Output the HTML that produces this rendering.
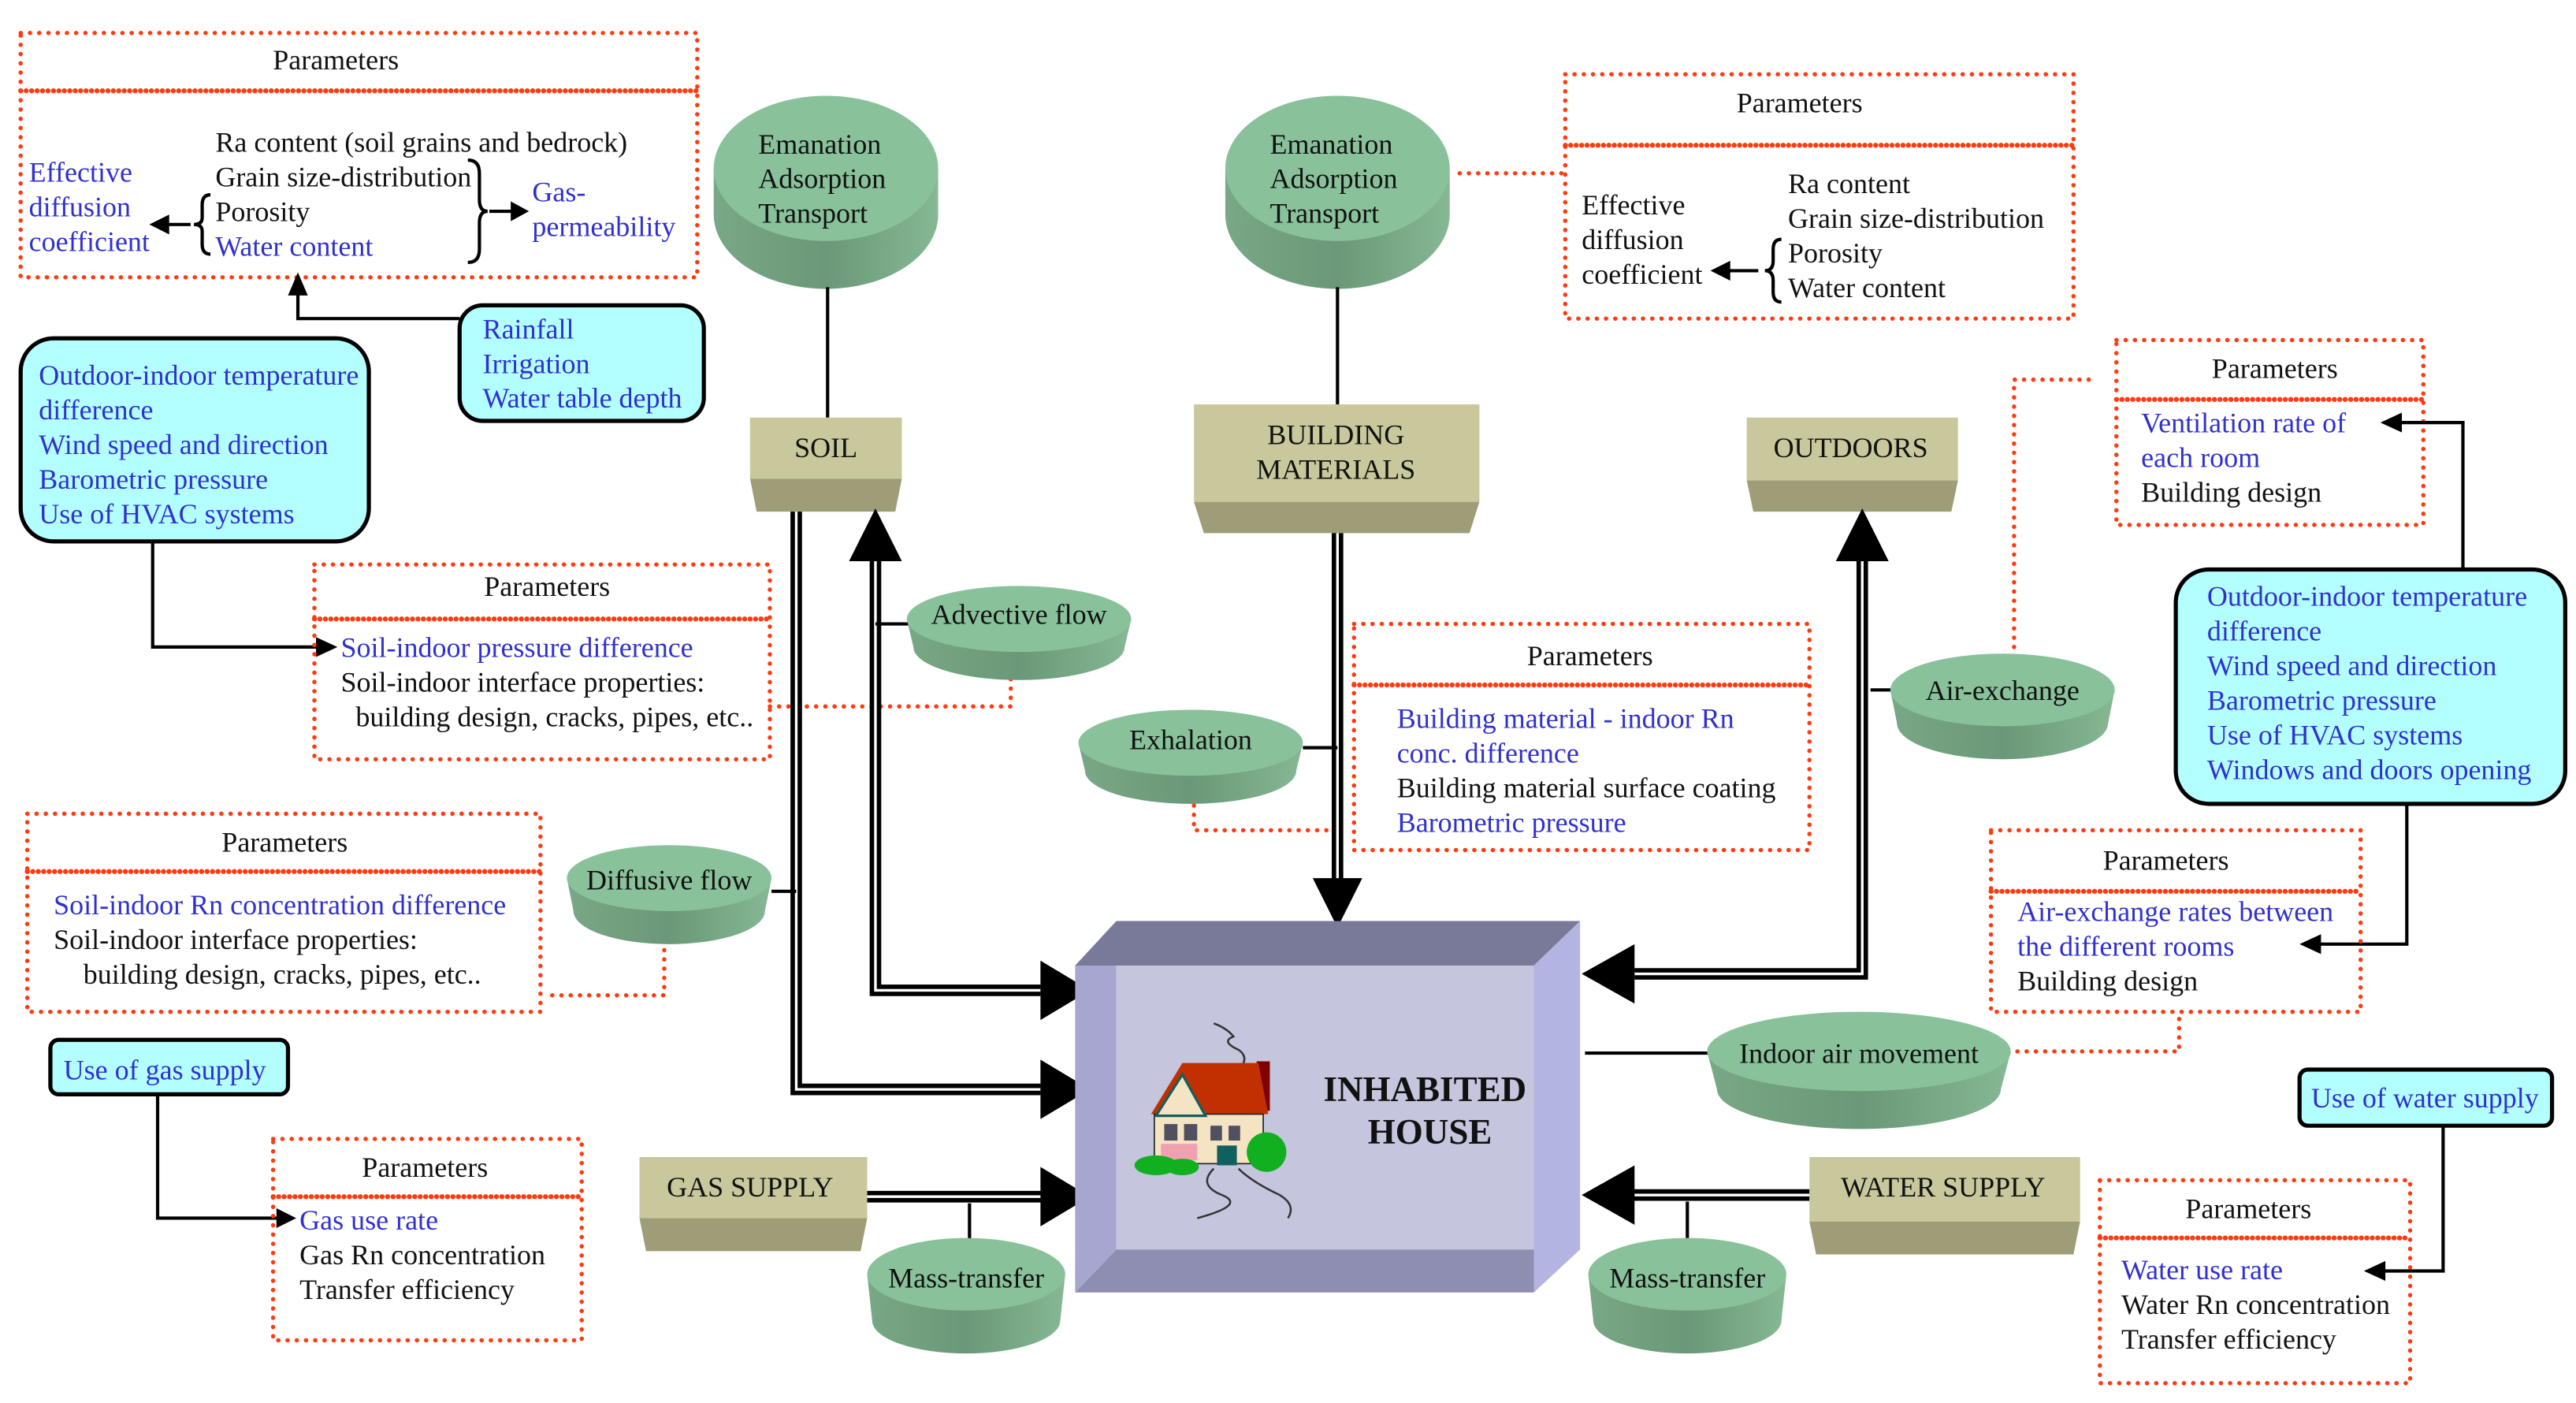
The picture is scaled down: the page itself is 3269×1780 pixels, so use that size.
<!DOCTYPE html>
<html><head><meta charset="utf-8"><style>
html,body{margin:0;padding:0;background:#fff;}
svg{display:block;}
text{font-family:"Liberation Serif","Times New Roman","DejaVu Serif",serif;font-size:17.2px;fill:#111;}
.b{fill:#3030d0;}
.c{text-anchor:middle;}
.dot{fill:none;stroke:#ff3a10;stroke-width:2.6;stroke-dasharray:0.1 5.5;stroke-linecap:round;}
.dd{fill:none;stroke:#ff3a10;stroke-width:3;stroke-dasharray:0.1 3.2;stroke-linecap:round;}
.cy{fill:#b3ffff;stroke:#000;stroke-width:2.5;}
.ln{fill:none;stroke:#000;stroke-width:2;}
.dbk{fill:none;stroke:#000;stroke-width:7;}
.dwh{fill:none;stroke:#fff;stroke-width:1.6;}
</style></head><body>
<svg width="3269" height="1780" viewBox="0 0 1560 850" xmlns="http://www.w3.org/2000/svg">
<defs>
<linearGradient id="gb" x1="0" x2="1" y1="0" y2="0"><stop offset="0" stop-color="#79a886"/><stop offset="0.5" stop-color="#6a9878"/><stop offset="1" stop-color="#86b894"/></linearGradient>
</defs>
<rect width="1560" height="850" fill="#fff"/>

<rect x="12" y="20" width="410" height="148" class="dot"/>
<line x1="12" y1="55" x2="422" y2="55" class="dd"/>
<text x="203" y="42" class="c">Parameters</text>
<text x="130" y="92">Ra content (soil grains and bedrock)</text>
<text x="130" y="113">Grain size-distribution</text>
<text x="130" y="134">Porosity</text>
<text x="130" y="155" class="b">Water content</text>
<text x="17" y="110" class="b">Effective</text>
<text x="17" y="131" class="b">diffusion</text>
<text x="17" y="152" class="b">coefficient</text>
<path d="M127,118 q-5,0 -5,6 v8 q0,4 -5,4 q5,0 5,4 v8 q0,6 5,6" class="ln" stroke-width="1.5"/>
<line x1="115" y1="136" x2="100" y2="136" class="ln" stroke-width="2.5"/>
<polygon points="90,136 102,130 102,142"/>
<path d="M283,97 q7,0 7,8 v16 q0,7 5,7 q-5,0 -5,7 v16 q0,8 -7,8" class="ln" stroke-width="1.5"/>
<line x1="296" y1="128" x2="312" y2="128" class="ln" stroke-width="2.5"/>
<polygon points="320,128 309,122 309,134"/>
<text x="322" y="122" class="b">Gas-</text>
<text x="322" y="143" class="b">permeability</text>

<g>
<path d="M432,102 L432,130 A68,45 0 0 0 568,130 L568,102 Z" fill="url(#gb)"/>
<ellipse cx="500" cy="102" rx="68" ry="44" fill="#89c29a"/>
<text x="459" y="93">Emanation</text><text x="459" y="114">Adsorption</text><text x="459" y="135">Transport</text>
</g>
<g>
<path d="M742,102 L742,130 A68,45 0 0 0 878,130 L878,102 Z" fill="url(#gb)"/>
<ellipse cx="810" cy="102" rx="68" ry="44" fill="#89c29a"/>
<text x="769" y="93">Emanation</text><text x="769" y="114">Adsorption</text><text x="769" y="135">Transport</text>
</g>
<line x1="501" y1="174" x2="501" y2="253" class="ln" stroke-width="2.5"/>
<line x1="810" y1="174" x2="810" y2="245" class="ln" stroke-width="2"/>
<line x1="884" y1="105" x2="946" y2="105" class="dot"/>

<rect x="948" y="45" width="308" height="148" class="dot"/>
<line x1="948" y1="88" x2="1256" y2="88" class="dd"/>
<text x="1090" y="68" class="c">Parameters</text>
<text x="1083" y="117">Ra content</text>
<text x="1083" y="138">Grain size-distribution</text>
<text x="1083" y="159">Porosity</text>
<text x="1083" y="180">Water content</text>
<text x="958" y="130">Effective</text>
<text x="958" y="151">diffusion</text>
<text x="958" y="172">coefficient</text>
<path d="M1079,145 q-5,0 -5,6 v7 q0,6 -5,6 q5,0 5,6 v7 q0,6 5,6" class="ln" stroke-width="1.5"/>
<line x1="1065" y1="164" x2="1046" y2="164" class="ln" stroke-width="2.5"/>
<polygon points="1036,164 1048,158 1048,170"/>

<rect x="278" y="185" width="148" height="70" rx="14" class="cy"/>
<text x="292" y="205" class="b">Rainfall</text>
<text x="292" y="226" class="b">Irrigation</text>
<text x="292" y="247" class="b">Water table depth</text>
<polyline points="278,193 180,193 180,178" class="ln" stroke-width="2.5"/>
<polygon points="180,165 174,179 186,179"/>

<rect x="12" y="205" width="211" height="123" rx="20" class="cy"/>
<text x="23" y="233" class="b">Outdoor-indoor temperature</text>
<text x="23" y="254" class="b">difference</text>
<text x="23" y="275" class="b">Wind speed and direction</text>
<text x="23" y="296" class="b">Barometric pressure</text>
<text x="23" y="317" class="b">Use of HVAC systems</text>
<polyline points="92,328 92,392 192,392" class="ln" stroke-width="2.5"/>
<polygon points="204,392 191,386 191,398"/>

<polygon points="454,290 546,290 542,310 458,310" fill="#9e9d78"/>
<rect x="454" y="253" width="92" height="37" fill="#c9c89c"/>
<text x="500" y="277" class="c">SOIL</text>
<polygon points="723,304 896,304 890,323 729,323" fill="#9e9d78"/>
<rect x="723" y="245" width="173" height="59" fill="#c9c89c"/>
<text x="809" y="269" class="c">BUILDING</text>
<text x="809" y="290" class="c">MATERIALS</text>
<polygon points="1058,291 1186,291 1182,310 1062,310" fill="#9e9d78"/>
<rect x="1058" y="253" width="128" height="38" fill="#c9c89c"/>
<text x="1121" y="277" class="c">OUTDOORS</text>

<rect x="190" y="342" width="276" height="118" class="dot"/>
<line x1="190" y1="375" x2="466" y2="375" class="dd"/>
<text x="331" y="361" class="c">Parameters</text>
<text x="206" y="398" class="b">Soil-indoor pressure difference</text>
<text x="206" y="419">Soil-indoor interface properties:</text>
<text x="215" y="440">building design, cracks, pipes, etc..</text>
<polyline points="466,428 612,428 612,410" class="dot"/>

<polyline points="482,310 482,660 630,660" class="dbk"/>
<polyline points="482,310 482,660 630,660" class="dwh"/>
<polygon points="630,642 660,660 630,678"/>
<polyline points="530,338 530,600 630,600" class="dbk"/>
<polyline points="530,338 530,600 630,600" class="dwh"/>
<polygon points="514,340 530,308 546,340"/>
<polygon points="630,582 660,600 630,618"/>
<line x1="810" y1="323" x2="810" y2="534" class="dbk"/>
<line x1="810" y1="323" x2="810" y2="534" class="dwh"/>
<polygon points="795,532 810,562 825,532"/>
<polyline points="1128,340 1128,590 990,590" class="dbk"/>
<polyline points="1128,340 1128,590 990,590" class="dwh"/>
<polygon points="1112,340 1128,308 1144,340"/>
<polygon points="990,572 958,590 990,608"/>
<line x1="525" y1="725" x2="632" y2="725" class="dbk"/>
<line x1="525" y1="725" x2="632" y2="725" class="dwh"/>
<polygon points="630,707 660,725 630,743"/>
<line x1="1096" y1="724" x2="988" y2="724" class="dbk"/>
<line x1="1096" y1="724" x2="988" y2="724" class="dwh"/>
<polygon points="990,706 958,724 990,742"/>

<line x1="530" y1="378" x2="552" y2="378" class="ln"/>
<path d="M549,375 L553,392 A64,20 0 0 0 681,392 L685,375 Z" fill="url(#gb)"/>
<ellipse cx="617" cy="375" rx="68" ry="20" fill="#89c29a"/>
<text x="617" y="378" class="c">Advective flow</text>

<line x1="789" y1="453" x2="810" y2="453" class="ln"/>
<polyline points="723,488 723,503 808,503" class="dot"/>
<path d="M653,450 L657,467 A64,20 0 0 0 785,467 L789,450 Z" fill="url(#gb)"/>
<ellipse cx="721" cy="450" rx="68" ry="20" fill="#89c29a"/>
<text x="721" y="454" class="c">Exhalation</text>

<rect x="820" y="378" width="276" height="137" class="dot"/>
<line x1="820" y1="415" x2="1096" y2="415" class="dd"/>
<text x="963" y="403" class="c">Parameters</text>
<text x="846" y="441" class="b">Building material - indoor Rn</text>
<text x="846" y="462" class="b">conc. difference</text>
<text x="846" y="483">Building material surface coating</text>
<text x="846" y="504" class="b">Barometric pressure</text>

<line x1="1133" y1="418" x2="1150" y2="418" class="ln"/>
<polyline points="1220,392 1220,230 1268,230" class="dot"/>
<path d="M1145,418 L1149,438 A64,22 0 0 0 1277,438 L1281,418 Z" fill="url(#gb)"/>
<ellipse cx="1213" cy="418" rx="68" ry="22" fill="#89c29a"/>
<text x="1213" y="424" class="c">Air-exchange</text>

<rect x="1282" y="206" width="186" height="112" class="dot"/>
<line x1="1282" y1="242" x2="1468" y2="242" class="dd"/>
<text x="1378" y="229" class="c">Parameters</text>
<text x="1297" y="262" class="b">Ventilation rate of</text>
<text x="1297" y="283" class="b">each room</text>
<text x="1297" y="304">Building design</text>
<polyline points="1492,345 1492,256 1455,256" class="ln" stroke-width="2.5"/>
<polygon points="1442,256 1455,250 1455,262"/>

<rect x="1318" y="345" width="236" height="142" rx="20" class="cy"/>
<text x="1337" y="367" class="b">Outdoor-indoor temperature</text>
<text x="1337" y="388" class="b">difference</text>
<text x="1337" y="409" class="b">Wind speed and direction</text>
<text x="1337" y="430" class="b">Barometric pressure</text>
<text x="1337" y="451" class="b">Use of HVAC systems</text>
<text x="1337" y="472" class="b">Windows and doors opening</text>
<polyline points="1458,487 1458,572 1405,572" class="ln" stroke-width="2.5"/>
<polygon points="1393,572 1406,566 1406,578"/>

<rect x="1206" y="503" width="224" height="110" class="dot"/>
<line x1="1206" y1="540" x2="1430" y2="540" class="dd"/>
<text x="1312" y="527" class="c">Parameters</text>
<text x="1222" y="558" class="b">Air-exchange rates between</text>
<text x="1222" y="579" class="b">the different rooms</text>
<text x="1222" y="600">Building design</text>
<polyline points="1222,637 1320,637 1320,614" class="dot"/>

<polygon points="676,558 957,558 929,585 651,585" fill="#797999"/>
<polygon points="651,585 676,585 676,757 651,783" fill="#a6a6d0"/>
<rect x="676" y="585" width="253" height="172" fill="#c5c5dd"/>
<polygon points="929,585 957,558 957,757 929,783" fill="#b4b4e2"/>
<polygon points="676,757 929,757 929,783 651,783" fill="#8e8eb2"/>
<text x="863" y="667" class="c" style="font-weight:bold;font-size:21.5px">INHABITED</text>
<text x="866" y="693" class="c" style="font-weight:bold;font-size:21.5px">HOUSE</text>
<g>
<path d="M735,620 q8,3 12,8 q-8,3 3,8 q6,4 2,10" fill="none" stroke="#333" stroke-width="1.2"/>
<rect x="761" y="643" width="8" height="30" fill="#800000"/>
<polygon points="697,675 716,644 762,644 768,675" fill="#c03000"/>
<rect x="699" y="675" width="66" height="30" fill="#f5e4c4" stroke="#222" stroke-width="0.8"/>
<polygon points="700,676 716,651 730,676" fill="#f5e4c4" stroke="#106060" stroke-width="1.5"/>
<rect x="705" y="681" width="8" height="10" fill="#505060"/><rect x="717" y="681" width="8" height="10" fill="#505060"/>
<rect x="733" y="682" width="7" height="9" fill="#505060"/><rect x="744" y="682" width="7" height="9" fill="#505060"/>
<rect x="737" y="694" width="12" height="12" fill="#106060"/>
<rect x="703" y="693" width="22" height="10" fill="#f0a0b0"/>
<ellipse cx="700" cy="706" rx="13" ry="6" fill="#10b020"/><ellipse cx="716" cy="707" rx="10" ry="5" fill="#10b020"/>
<ellipse cx="767" cy="698" rx="12" ry="12" fill="#10b020"/>
<path d="M735,708 q-10,10 5,16 q15,6 -15,14 M750,708 q8,8 25,16 q10,6 5,14" fill="none" stroke="#333" stroke-width="1.2"/>
</g>

<line x1="960" y1="638" x2="1036" y2="638" class="ln" stroke-width="2.5"/>
<path d="M1034,637 L1040,660 A86,24 0 0 0 1212,660 L1218,637 Z" fill="url(#gb)"/>
<ellipse cx="1126" cy="637" rx="92" ry="24" fill="#89c29a"/>
<text x="1126" y="644" class="c">Indoor air movement</text>

<line x1="467" y1="540" x2="482" y2="540" class="ln"/>
<polyline points="402,570 402,603 330,603" class="dot"/>
<path d="M343,532 L347,552 A58,20 0 0 0 463,552 L467,532 Z" fill="url(#gb)"/>
<ellipse cx="405" cy="532" rx="62" ry="20" fill="#89c29a"/>
<text x="405" y="539" class="c">Diffusive flow</text>

<rect x="16" y="493" width="311" height="120" class="dot"/>
<line x1="16" y1="528" x2="327" y2="528" class="dd"/>
<text x="172" y="516" class="c">Parameters</text>
<text x="32" y="554" class="b">Soil-indoor Rn concentration difference</text>
<text x="32" y="575">Soil-indoor interface properties:</text>
<text x="50" y="596">building design, cracks, pipes, etc..</text>

<rect x="30" y="630" width="144" height="33" rx="5" class="cy"/>
<text x="38" y="654" class="b">Use of gas supply</text>
<polyline points="95,663 95,738 168,738" class="ln" stroke-width="2.5"/>
<polygon points="179,738 167,732 167,744"/>
<rect x="165" y="690" width="187" height="122" class="dot"/>
<line x1="165" y1="725" x2="352" y2="725" class="dd"/>
<text x="257" y="713" class="c">Parameters</text>
<text x="181" y="745" class="b">Gas use rate</text>
<text x="181" y="766">Gas Rn concentration</text>
<text x="181" y="787">Transfer efficiency</text>

<polygon points="387,738 525,738 521,758 391,758" fill="#9e9d78"/>
<rect x="387" y="701" width="138" height="37" fill="#c9c89c"/>
<text x="454" y="725" class="c">GAS SUPPLY</text>
<line x1="587" y1="729" x2="587" y2="755" class="ln"/>
<path d="M525,772 L528,800 A57,20 0 0 0 642,800 L645,772 Z" fill="url(#gb)"/>
<ellipse cx="585" cy="772" rx="60" ry="22" fill="#89c29a"/>
<text x="585" y="780" class="c">Mass-transfer</text>

<polygon points="1096,740 1260,740 1256,760 1100,760" fill="#9e9d78"/>
<rect x="1096" y="701" width="164" height="39" fill="#c9c89c"/>
<text x="1177" y="725" class="c">WATER SUPPLY</text>
<line x1="1022" y1="728" x2="1022" y2="755" class="ln"/>
<path d="M962,772 L965,800 A57,20 0 0 0 1079,800 L1082,772 Z" fill="url(#gb)"/>
<ellipse cx="1022" cy="772" rx="60" ry="22" fill="#89c29a"/>
<text x="1022" y="780" class="c">Mass-transfer</text>

<rect x="1393" y="648" width="153" height="34" rx="5" class="cy"/>
<text x="1400" y="671" class="b">Use of water supply</text>
<polyline points="1480,682 1480,770 1444,770" class="ln" stroke-width="2.5"/>
<polygon points="1432,770 1445,764 1445,776"/>
<rect x="1272" y="715" width="188" height="123" class="dot"/>
<line x1="1272" y1="750" x2="1460" y2="750" class="dd"/>
<text x="1362" y="738" class="c">Parameters</text>
<text x="1285" y="775" class="b">Water use rate</text>
<text x="1285" y="796">Water Rn concentration</text>
<text x="1285" y="817">Transfer efficiency</text>
</svg>
</body></html>
